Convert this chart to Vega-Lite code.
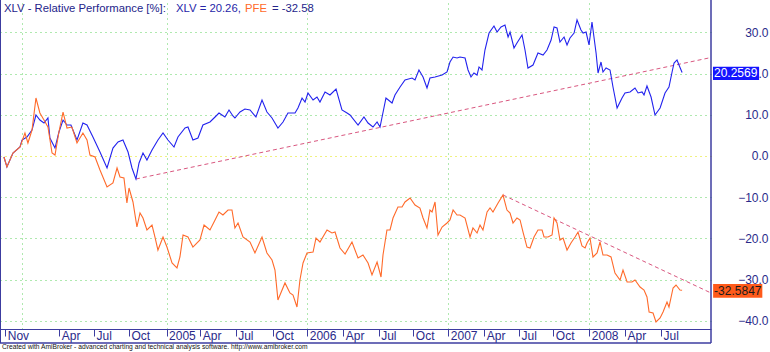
{
"$schema": "https://vega.github.io/schema/vega-lite/v6.json",
"width": 711, "height": 329,
"autosize": {"type": "none"},
"padding": {"left": 0, "top": 0, "right": 59, "bottom": 23},
"background": "white",
"config": {"view": {"stroke": null}, "font": "Liberation Sans"},
"datasets": {
"series": [
{"s":"XLV","t":2003.851,"v":-0.25},{"s":"XLV","t":2003.872,"v":-2.68},{"s":"XLV","t":2003.915,"v":0.72},{"s":"XLV","t":2003.965,"v":2.18},{"s":"XLV","t":2003.979,"v":3.88},{"s":"XLV","t":2004.014,"v":4.60},{"s":"XLV","t":2004.050,"v":6.30},{"s":"XLV","t":2004.078,"v":9.94},{"s":"XLV","t":2004.106,"v":8.73},{"s":"XLV","t":2004.135,"v":8.00},{"s":"XLV","t":2004.163,"v":9.22},{"s":"XLV","t":2004.177,"v":4.36},{"s":"XLV","t":2004.213,"v":1.93},{"s":"XLV","t":2004.241,"v":5.82},{"s":"XLV","t":2004.270,"v":8.73},{"s":"XLV","t":2004.298,"v":7.52},{"s":"XLV","t":2004.326,"v":7.52},{"s":"XLV","t":2004.369,"v":3.88},{"s":"XLV","t":2004.411,"v":8.00},{"s":"XLV","t":2004.440,"v":7.52},{"s":"XLV","t":2004.482,"v":4.60},{"s":"XLV","t":2004.532,"v":0.96},{"s":"XLV","t":2004.582,"v":-2.92},{"s":"XLV","t":2004.624,"v":1.93},{"s":"XLV","t":2004.660,"v":3.39},{"s":"XLV","t":2004.695,"v":3.88},{"s":"XLV","t":2004.731,"v":0.96},{"s":"XLV","t":2004.759,"v":-2.92},{"s":"XLV","t":2004.787,"v":-5.59},{"s":"XLV","t":2004.809,"v":-1.71},{"s":"XLV","t":2004.837,"v":0.72},{"s":"XLV","t":2004.865,"v":-0.98},{"s":"XLV","t":2004.901,"v":1.45},{"s":"XLV","t":2004.943,"v":3.88},{"s":"XLV","t":2004.979,"v":5.58},{"s":"XLV","t":2005.014,"v":3.88},{"s":"XLV","t":2005.057,"v":2.18},{"s":"XLV","t":2005.085,"v":4.60},{"s":"XLV","t":2005.135,"v":6.79},{"s":"XLV","t":2005.156,"v":7.03},{"s":"XLV","t":2005.191,"v":3.88},{"s":"XLV","t":2005.227,"v":4.36},{"s":"XLV","t":2005.262,"v":7.52},{"s":"XLV","t":2005.312,"v":8.25},{"s":"XLV","t":2005.348,"v":9.46},{"s":"XLV","t":2005.376,"v":10.43},{"s":"XLV","t":2005.418,"v":9.46},{"s":"XLV","t":2005.447,"v":11.16},{"s":"XLV","t":2005.475,"v":9.70},{"s":"XLV","t":2005.489,"v":9.22},{"s":"XLV","t":2005.525,"v":10.67},{"s":"XLV","t":2005.560,"v":11.40},{"s":"XLV","t":2005.596,"v":11.16},{"s":"XLV","t":2005.638,"v":9.46},{"s":"XLV","t":2005.681,"v":13.59},{"s":"XLV","t":2005.716,"v":10.67},{"s":"XLV","t":2005.752,"v":9.22},{"s":"XLV","t":2005.794,"v":6.79},{"s":"XLV","t":2005.830,"v":8.25},{"s":"XLV","t":2005.865,"v":10.43},{"s":"XLV","t":2005.915,"v":10.43},{"s":"XLV","t":2005.936,"v":11.64},{"s":"XLV","t":2005.965,"v":14.07},{"s":"XLV","t":2005.986,"v":13.10},{"s":"XLV","t":2006.007,"v":15.29},{"s":"XLV","t":2006.043,"v":13.59},{"s":"XLV","t":2006.071,"v":14.31},{"s":"XLV","t":2006.092,"v":13.10},{"s":"XLV","t":2006.128,"v":15.53},{"s":"XLV","t":2006.163,"v":14.80},{"s":"XLV","t":2006.206,"v":16.26},{"s":"XLV","t":2006.248,"v":11.16},{"s":"XLV","t":2006.284,"v":10.43},{"s":"XLV","t":2006.305,"v":9.94},{"s":"XLV","t":2006.362,"v":7.52},{"s":"XLV","t":2006.404,"v":9.46},{"s":"XLV","t":2006.433,"v":8.00},{"s":"XLV","t":2006.468,"v":7.03},{"s":"XLV","t":2006.497,"v":8.25},{"s":"XLV","t":2006.518,"v":7.03},{"s":"XLV","t":2006.560,"v":14.07},{"s":"XLV","t":2006.603,"v":12.86},{"s":"XLV","t":2006.624,"v":14.80},{"s":"XLV","t":2006.660,"v":16.74},{"s":"XLV","t":2006.695,"v":18.44},{"s":"XLV","t":2006.745,"v":18.93},{"s":"XLV","t":2006.766,"v":18.44},{"s":"XLV","t":2006.794,"v":20.87},{"s":"XLV","t":2006.823,"v":19.17},{"s":"XLV","t":2006.851,"v":16.50},{"s":"XLV","t":2006.872,"v":18.93},{"s":"XLV","t":2006.908,"v":19.17},{"s":"XLV","t":2006.958,"v":19.65},{"s":"XLV","t":2006.993,"v":20.38},{"s":"XLV","t":2007.014,"v":22.81},{"s":"XLV","t":2007.036,"v":24.02},{"s":"XLV","t":2007.064,"v":23.78},{"s":"XLV","t":2007.085,"v":24.02},{"s":"XLV","t":2007.121,"v":23.78},{"s":"XLV","t":2007.142,"v":20.87},{"s":"XLV","t":2007.163,"v":19.17},{"s":"XLV","t":2007.184,"v":20.14},{"s":"XLV","t":2007.206,"v":19.65},{"s":"XLV","t":2007.220,"v":21.60},{"s":"XLV","t":2007.241,"v":20.87},{"s":"XLV","t":2007.262,"v":25.72},{"s":"XLV","t":2007.291,"v":29.85},{"s":"XLV","t":2007.326,"v":31.55},{"s":"XLV","t":2007.348,"v":30.09},{"s":"XLV","t":2007.376,"v":31.31},{"s":"XLV","t":2007.404,"v":31.79},{"s":"XLV","t":2007.426,"v":28.88},{"s":"XLV","t":2007.440,"v":30.09},{"s":"XLV","t":2007.468,"v":26.21},{"s":"XLV","t":2007.489,"v":27.42},{"s":"XLV","t":2007.525,"v":29.36},{"s":"XLV","t":2007.546,"v":25.72},{"s":"XLV","t":2007.567,"v":21.35},{"s":"XLV","t":2007.603,"v":22.08},{"s":"XLV","t":2007.638,"v":24.99},{"s":"XLV","t":2007.674,"v":24.51},{"s":"XLV","t":2007.702,"v":25.72},{"s":"XLV","t":2007.731,"v":28.15},{"s":"XLV","t":2007.752,"v":31.31},{"s":"XLV","t":2007.773,"v":31.06},{"s":"XLV","t":2007.794,"v":27.66},{"s":"XLV","t":2007.823,"v":28.88},{"s":"XLV","t":2007.844,"v":26.94},{"s":"XLV","t":2007.865,"v":28.64},{"s":"XLV","t":2007.894,"v":29.85},{"s":"XLV","t":2007.915,"v":33.01},{"s":"XLV","t":2007.943,"v":30.58},{"s":"XLV","t":2007.958,"v":29.85},{"s":"XLV","t":2007.979,"v":30.09},{"s":"XLV","t":2008.000,"v":26.94},{"s":"XLV","t":2008.021,"v":32.52},{"s":"XLV","t":2008.050,"v":24.99},{"s":"XLV","t":2008.064,"v":20.14},{"s":"XLV","t":2008.085,"v":22.81},{"s":"XLV","t":2008.099,"v":20.38},{"s":"XLV","t":2008.121,"v":21.35},{"s":"XLV","t":2008.149,"v":20.87},{"s":"XLV","t":2008.170,"v":16.74},{"s":"XLV","t":2008.199,"v":11.64},{"s":"XLV","t":2008.234,"v":14.07},{"s":"XLV","t":2008.255,"v":15.29},{"s":"XLV","t":2008.291,"v":15.53},{"s":"XLV","t":2008.326,"v":16.50},{"s":"XLV","t":2008.348,"v":15.29},{"s":"XLV","t":2008.376,"v":15.53},{"s":"XLV","t":2008.390,"v":14.80},{"s":"XLV","t":2008.411,"v":16.98},{"s":"XLV","t":2008.440,"v":14.31},{"s":"XLV","t":2008.468,"v":9.94},{"s":"XLV","t":2008.504,"v":11.64},{"s":"XLV","t":2008.539,"v":15.29},{"s":"XLV","t":2008.567,"v":16.74},{"s":"XLV","t":2008.589,"v":20.38},{"s":"XLV","t":2008.603,"v":22.57},{"s":"XLV","t":2008.624,"v":23.30},{"s":"XLV","t":2008.638,"v":22.08},{"s":"XLV","t":2008.660,"v":20.26},
{"s":"PFE","t":2003.851,"v":-0.25},{"s":"PFE","t":2003.872,"v":-2.68},{"s":"PFE","t":2003.915,"v":0.72},{"s":"PFE","t":2003.965,"v":2.18},{"s":"PFE","t":2004.000,"v":5.58},{"s":"PFE","t":2004.021,"v":3.15},{"s":"PFE","t":2004.050,"v":6.30},{"s":"PFE","t":2004.078,"v":14.07},{"s":"PFE","t":2004.106,"v":10.43},{"s":"PFE","t":2004.135,"v":8.73},{"s":"PFE","t":2004.163,"v":7.03},{"s":"PFE","t":2004.192,"v":0.72},{"s":"PFE","t":2004.213,"v":0.24},{"s":"PFE","t":2004.241,"v":5.82},{"s":"PFE","t":2004.270,"v":10.67},{"s":"PFE","t":2004.298,"v":6.79},{"s":"PFE","t":2004.333,"v":7.03},{"s":"PFE","t":2004.369,"v":3.15},{"s":"PFE","t":2004.411,"v":5.58},{"s":"PFE","t":2004.440,"v":3.88},{"s":"PFE","t":2004.461,"v":0.24},{"s":"PFE","t":2004.497,"v":-0.25},{"s":"PFE","t":2004.532,"v":-3.41},{"s":"PFE","t":2004.582,"v":-7.53},{"s":"PFE","t":2004.624,"v":-6.56},{"s":"PFE","t":2004.653,"v":-2.92},{"s":"PFE","t":2004.674,"v":-5.10},{"s":"PFE","t":2004.702,"v":-5.35},{"s":"PFE","t":2004.723,"v":-11.42},{"s":"PFE","t":2004.738,"v":-7.78},{"s":"PFE","t":2004.766,"v":-11.17},{"s":"PFE","t":2004.794,"v":-17.24},{"s":"PFE","t":2004.816,"v":-13.84},{"s":"PFE","t":2004.837,"v":-15.06},{"s":"PFE","t":2004.865,"v":-17.97},{"s":"PFE","t":2004.901,"v":-16.76},{"s":"PFE","t":2004.922,"v":-19.67},{"s":"PFE","t":2004.943,"v":-22.83},{"s":"PFE","t":2004.979,"v":-19.67},{"s":"PFE","t":2005.007,"v":-22.10},{"s":"PFE","t":2005.043,"v":-25.98},{"s":"PFE","t":2005.078,"v":-27.19},{"s":"PFE","t":2005.099,"v":-24.52},{"s":"PFE","t":2005.121,"v":-19.18},{"s":"PFE","t":2005.156,"v":-19.67},{"s":"PFE","t":2005.191,"v":-22.10},{"s":"PFE","t":2005.241,"v":-20.40},{"s":"PFE","t":2005.270,"v":-16.76},{"s":"PFE","t":2005.312,"v":-17.97},{"s":"PFE","t":2005.348,"v":-15.54},{"s":"PFE","t":2005.376,"v":-13.60},{"s":"PFE","t":2005.404,"v":-14.33},{"s":"PFE","t":2005.440,"v":-13.12},{"s":"PFE","t":2005.468,"v":-13.12},{"s":"PFE","t":2005.489,"v":-17.48},{"s":"PFE","t":2005.511,"v":-16.27},{"s":"PFE","t":2005.546,"v":-19.67},{"s":"PFE","t":2005.596,"v":-20.88},{"s":"PFE","t":2005.631,"v":-23.55},{"s":"PFE","t":2005.681,"v":-19.67},{"s":"PFE","t":2005.716,"v":-23.55},{"s":"PFE","t":2005.752,"v":-25.25},{"s":"PFE","t":2005.773,"v":-27.68},{"s":"PFE","t":2005.794,"v":-34.96},{"s":"PFE","t":2005.844,"v":-30.82},{"s":"PFE","t":2005.879,"v":-33.26},{"s":"PFE","t":2005.901,"v":-33.75},{"s":"PFE","t":2005.929,"v":-36.66},{"s":"PFE","t":2005.950,"v":-30.11},{"s":"PFE","t":2005.972,"v":-25.98},{"s":"PFE","t":2006.000,"v":-23.55},{"s":"PFE","t":2006.043,"v":-23.31},{"s":"PFE","t":2006.064,"v":-19.91},{"s":"PFE","t":2006.092,"v":-20.88},{"s":"PFE","t":2006.142,"v":-17.97},{"s":"PFE","t":2006.177,"v":-18.70},{"s":"PFE","t":2006.199,"v":-18.46},{"s":"PFE","t":2006.234,"v":-22.34},{"s":"PFE","t":2006.270,"v":-23.80},{"s":"PFE","t":2006.319,"v":-20.88},{"s":"PFE","t":2006.362,"v":-24.77},{"s":"PFE","t":2006.397,"v":-24.04},{"s":"PFE","t":2006.433,"v":-25.98},{"s":"PFE","t":2006.461,"v":-28.89},{"s":"PFE","t":2006.497,"v":-25.74},{"s":"PFE","t":2006.525,"v":-29.38},{"s":"PFE","t":2006.539,"v":-24.04},{"s":"PFE","t":2006.567,"v":-17.97},{"s":"PFE","t":2006.589,"v":-17.97},{"s":"PFE","t":2006.610,"v":-15.06},{"s":"PFE","t":2006.645,"v":-12.39},{"s":"PFE","t":2006.674,"v":-12.39},{"s":"PFE","t":2006.695,"v":-11.17},{"s":"PFE","t":2006.731,"v":-10.20},{"s":"PFE","t":2006.766,"v":-11.90},{"s":"PFE","t":2006.801,"v":-12.63},{"s":"PFE","t":2006.823,"v":-15.06},{"s":"PFE","t":2006.851,"v":-17.48},{"s":"PFE","t":2006.872,"v":-13.12},{"s":"PFE","t":2006.887,"v":-13.60},{"s":"PFE","t":2006.908,"v":-11.17},{"s":"PFE","t":2006.929,"v":-19.18},{"s":"PFE","t":2006.958,"v":-17.24},{"s":"PFE","t":2006.993,"v":-16.27},{"s":"PFE","t":2007.014,"v":-15.54},{"s":"PFE","t":2007.036,"v":-13.12},{"s":"PFE","t":2007.064,"v":-14.33},{"s":"PFE","t":2007.085,"v":-14.33},{"s":"PFE","t":2007.121,"v":-15.06},{"s":"PFE","t":2007.156,"v":-19.67},{"s":"PFE","t":2007.177,"v":-17.48},{"s":"PFE","t":2007.206,"v":-18.70},{"s":"PFE","t":2007.227,"v":-16.76},{"s":"PFE","t":2007.248,"v":-17.97},{"s":"PFE","t":2007.277,"v":-13.60},{"s":"PFE","t":2007.298,"v":-12.63},{"s":"PFE","t":2007.319,"v":-13.60},{"s":"PFE","t":2007.355,"v":-11.42},{"s":"PFE","t":2007.390,"v":-9.47},{"s":"PFE","t":2007.418,"v":-13.12},{"s":"PFE","t":2007.440,"v":-13.84},{"s":"PFE","t":2007.461,"v":-16.27},{"s":"PFE","t":2007.489,"v":-15.06},{"s":"PFE","t":2007.511,"v":-15.54},{"s":"PFE","t":2007.532,"v":-18.46},{"s":"PFE","t":2007.560,"v":-22.10},{"s":"PFE","t":2007.582,"v":-22.34},{"s":"PFE","t":2007.610,"v":-19.67},{"s":"PFE","t":2007.638,"v":-17.97},{"s":"PFE","t":2007.667,"v":-17.97},{"s":"PFE","t":2007.681,"v":-19.67},{"s":"PFE","t":2007.709,"v":-19.67},{"s":"PFE","t":2007.738,"v":-19.18},{"s":"PFE","t":2007.752,"v":-15.06},{"s":"PFE","t":2007.773,"v":-16.27},{"s":"PFE","t":2007.794,"v":-20.40},{"s":"PFE","t":2007.816,"v":-19.91},{"s":"PFE","t":2007.844,"v":-22.83},{"s":"PFE","t":2007.872,"v":-21.13},{"s":"PFE","t":2007.901,"v":-19.67},{"s":"PFE","t":2007.922,"v":-18.46},{"s":"PFE","t":2007.950,"v":-21.85},{"s":"PFE","t":2007.972,"v":-22.34},{"s":"PFE","t":2007.986,"v":-21.13},{"s":"PFE","t":2008.007,"v":-19.91},{"s":"PFE","t":2008.028,"v":-24.52},{"s":"PFE","t":2008.057,"v":-23.55},{"s":"PFE","t":2008.078,"v":-20.88},{"s":"PFE","t":2008.099,"v":-24.04},{"s":"PFE","t":2008.128,"v":-24.04},{"s":"PFE","t":2008.156,"v":-24.52},{"s":"PFE","t":2008.184,"v":-28.41},{"s":"PFE","t":2008.220,"v":-30.11},{"s":"PFE","t":2008.241,"v":-27.68},{"s":"PFE","t":2008.270,"v":-30.59},{"s":"PFE","t":2008.305,"v":-30.59},{"s":"PFE","t":2008.326,"v":-30.11},{"s":"PFE","t":2008.362,"v":-31.81},{"s":"PFE","t":2008.390,"v":-32.53},{"s":"PFE","t":2008.411,"v":-34.23},{"s":"PFE","t":2008.426,"v":-37.87},{"s":"PFE","t":2008.454,"v":-38.12},{"s":"PFE","t":2008.475,"v":-40.30},{"s":"PFE","t":2008.504,"v":-39.33},{"s":"PFE","t":2008.525,"v":-37.87},{"s":"PFE","t":2008.553,"v":-35.45},{"s":"PFE","t":2008.567,"v":-36.66},{"s":"PFE","t":2008.596,"v":-32.05},{"s":"PFE","t":2008.617,"v":-31.32},{"s":"PFE","t":2008.645,"v":-32.53},{"s":"PFE","t":2008.660,"v":-32.58}
],
"trends": [
{"line":"XLV trend","t":2004.787,"v":-5.59},{"line":"XLV trend","t":2008.865,"v":23.90},
{"line":"PFE trend","t":2007.390,"v":-9.47},{"line":"PFE trend","t":2008.865,"v":-33.26}
]
},
"resolve": {"axis": {"x": "independent", "y": "independent"}},
"layer": [
{
"data": {"name": "trends"},
"mark": {"type": "line", "strokeDash": [4, 3], "strokeWidth": 1, "color": "#d9577f", "clip": true},
"encoding": {
"x": {"field": "t", "type": "quantitative", "scale": {"domain": [2003.823, 2008.865], "nice": false, "zero": false},
"axis": {"orient": "top", "values": [2003.981, 2005.004, 2006.002, 2007.002, 2008.002], "grid": true, "gridColor": "#5fd35f", "gridDash": [1, 4], "gridWidth": 1, "ticks": false, "labels": false, "domain": false, "title": null}},
"y": {"field": "v", "type": "quantitative", "scale": {"domain": [-42, 37.86], "nice": false, "zero": false},
"axis": {"orient": "right", "values": [-40, -30, -20, -10, 0, 10, 20, 30], "format": ".1f", "grid": true,
"gridColor": {"condition": {"test": "datum.value === 0", "value": "#e2e200"}, "value": "#5fd35f"},
"gridDash": [1, 4], "gridWidth": 1, "ticks": false, "tickSize": 0, "domain": false, "labelAlign": "right", "labelBaseline": "middle", "labelPadding": 57, "labelFontSize": 12, "labelColor": "#2a2a8a", "title": null}},
"detail": {"field": "line", "type": "nominal"}
}
},
{
"data": {"name": "series"},
"mark": {"type": "line", "strokeWidth": 1.1},
"encoding": {
"x": {"field": "t", "type": "quantitative",
"axis": {"orient": "bottom", "values": [2003.86, 2004.243, 2004.49, 2004.737, 2005.004, 2005.243, 2005.494, 2005.757, 2006.002, 2006.257, 2006.508, 2006.754, 2007.002, 2007.257, 2007.504, 2007.747, 2008.002, 2008.255, 2008.511],
"labelExpr": "(datum.value - floor(datum.value)) < 0.05 ? format(datum.value, 'd') : (datum.value - floor(datum.value)) < 0.35 ? 'Apr' : (datum.value - floor(datum.value)) < 0.62 ? 'Jul' : (datum.value - floor(datum.value)) < 0.8 ? 'Oct' : 'Nov'",
"grid": false, "ticks": true, "tickSize": 7, "tickColor": "#3c3ca0", "domain": true, "domainColor": "#3c3ca0", "labelAlign": "left", "labelBaseline": "alphabetic", "labelPadding": 3, "labelOffset": 2, "labelFlush": false, "labelOverlap": false, "labelFontSize": 12, "labelColor": "#2a2a8a", "title": null}},
"y": {"field": "v", "type": "quantitative", "axis": null},
"color": {"field": "s", "type": "nominal", "scale": {"domain": ["XLV", "PFE"], "range": ["#2222ee", "#ff6a2a"]}, "legend": null},
"detail": {"field": "s", "type": "nominal"}
}
},
{
"data": {"values": [{}]},
"mark": {"type": "rule", "color": "#3c3ca0", "strokeWidth": 2},
"encoding": {"x": {"datum": 2003.823, "type": "quantitative", "axis": null}, "y": {"datum": 37.86, "type": "quantitative", "axis": null}, "y2": {"datum": -45.4}}
},
{
"data": {"values": [{}]},
"mark": {"type": "rule", "color": "#3c3ca0", "strokeWidth": 1.5},
"encoding": {"x": {"datum": 2008.865, "type": "quantitative", "axis": null}, "y": {"datum": 37.86, "type": "quantitative", "axis": null}, "y2": {"datum": -45.4}}
},
{
"data": {"values": [{}]},
"mark": {"type": "rule", "color": "#3c3ca0", "strokeWidth": 1.5},
"encoding": {"x": {"datum": 2003.823, "type": "quantitative", "axis": null}, "x2": {"datum": 2008.865}, "y": {"datum": -45.4, "type": "quantitative", "axis": null}}
},
{
"data": {"values": [{}]},
"mark": {"type": "rect", "color": "#1414ff"},
"encoding": {"x": {"datum": 2008.879, "type": "quantitative", "axis": null}, "x2": {"datum": 2009.206}, "y": {"datum": 21.67, "type": "quantitative", "axis": null}, "y2": {"datum": 18.44}}
},
{
"data": {"values": [{}]},
"mark": {"type": "text", "align": "left", "baseline": "middle", "fontSize": 12, "color": "white", "dx": 1},
"encoding": {"x": {"datum": 2008.879, "type": "quantitative", "axis": null}, "y": {"datum": 20.06, "type": "quantitative", "axis": null}, "text": {"value": "20.2569"}}
},
{
"data": {"values": [{}]},
"mark": {"type": "rect", "color": "#ff5a1a"},
"encoding": {"x": {"datum": 2008.880, "type": "quantitative", "axis": null}, "x2": {"datum": 2009.229}, "y": {"datum": -31.08, "type": "quantitative", "axis": null}, "y2": {"datum": -34.40}}
},
{
"data": {"values": [{}]},
"mark": {"type": "text", "align": "left", "baseline": "middle", "fontSize": 12, "color": "#1a1a1a", "dx": 1},
"encoding": {"x": {"datum": 2008.880, "type": "quantitative", "axis": null}, "y": {"datum": -32.74, "type": "quantitative", "axis": null}, "text": {"value": "-32.5847"}}
},
{
"data": {"values": [{}]},
"mark": {"type": "text", "align": "left", "baseline": "alphabetic", "fontSize": 11.3, "color": "#24248a", "dx": 4, "dy": 11.7},
"encoding": {"x": {"datum": 2003.823, "type": "quantitative", "axis": null}, "y": {"datum": 37.86, "type": "quantitative", "axis": null}, "text": {"value": "XLV - Relative Performance [%]:"}}
},
{
"data": {"values": [{}]},
"mark": {"type": "text", "align": "left", "baseline": "alphabetic", "fontSize": 11.3, "color": "#2626a8", "dx": 176, "dy": 11.7},
"encoding": {"x": {"datum": 2003.823, "type": "quantitative", "axis": null}, "y": {"datum": 37.86, "type": "quantitative", "axis": null}, "text": {"value": "XLV = 20.26,"}}
},
{
"data": {"values": [{}]},
"mark": {"type": "text", "align": "left", "baseline": "alphabetic", "fontSize": 11.3, "color": "#ff6a2a", "dx": 245, "dy": 11.7},
"encoding": {"x": {"datum": 2003.823, "type": "quantitative", "axis": null}, "y": {"datum": 37.86, "type": "quantitative", "axis": null}, "text": {"value": "PFE"}}
},
{
"data": {"values": [{}]},
"mark": {"type": "text", "align": "left", "baseline": "alphabetic", "fontSize": 11.3, "color": "#24248a", "dx": 272, "dy": 11.7},
"encoding": {"x": {"datum": 2003.823, "type": "quantitative", "axis": null}, "y": {"datum": 37.86, "type": "quantitative", "axis": null}, "text": {"value": "= -32.58"}}
},
{
"data": {"values": [{}]},
"mark": {"type": "text", "align": "left", "baseline": "alphabetic", "fontSize": 6.7, "color": "#111111", "dx": 2, "dy": 5.5},
"encoding": {"x": {"datum": 2003.823, "type": "quantitative", "axis": null}, "y": {"datum": -45.4, "type": "quantitative", "axis": null}, "text": {"value": "Created with AmiBroker - advanced charting and technical analysis software. http://www.amibroker.com"}}
}
]
}
